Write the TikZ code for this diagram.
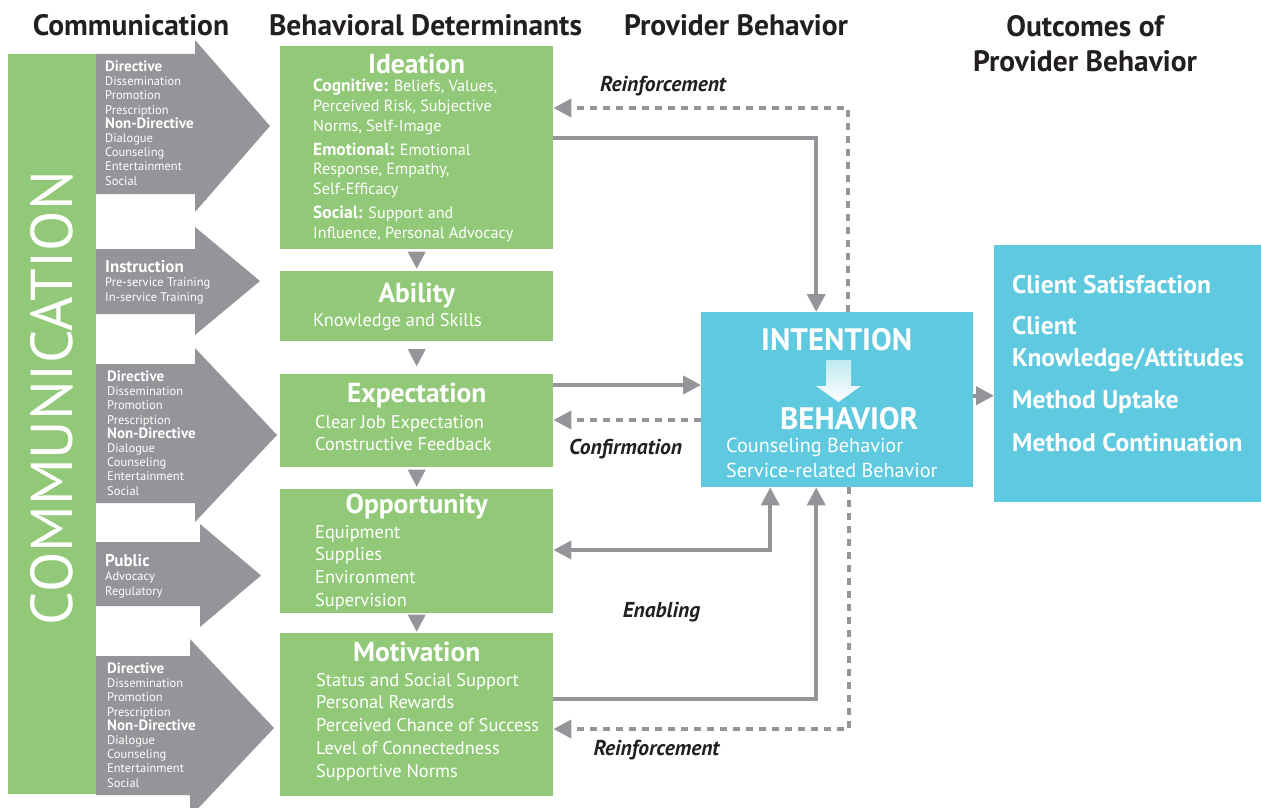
\documentclass[tikz,border=0pt]{standalone}
\usepackage{fontspec}
\setmainfont{PT Sans}
\usetikzlibrary{arrows.meta,positioning}

\definecolor{dgreen}{HTML}{92C978}
\definecolor{dblue}{HTML}{5FC9E0}
\definecolor{dgrey}{HTML}{939598}
\definecolor{dark}{HTML}{231F20}
\newcommand\lead[1]{{\fontsize{17.5}{21}\selectfont\bfseries #1}}
\newcommand\kind[1]{{\fontsize{15}{14.2}\selectfont\bfseries #1}}

\begin{document}
\begin{tikzpicture}[x=1pt,y=-1pt,
  gbox/.style={fill=dgreen, minimum width=273pt, inner sep=0pt, anchor=north west},
  bbox/.style={fill=dblue, inner sep=0pt, anchor=north west},
  head/.style={text=dark, anchor=base, align=center, font=\fontsize{29.5}{35}\selectfont\bfseries},
  title/.style={text=white, anchor=base, font=\fontsize{27.5}{30}\selectfont\bfseries},
  items/.style={text=white, align=left, anchor=base west, inner sep=0pt},
  tag/.style={text=white, align=left, anchor=base west, inner sep=0pt, font=\fontsize{12.5}{14.2}\selectfont},
  lbl/.style={text=dark, anchor=base, font=\fontsize{21.5}{24}\selectfont\bfseries\itshape},
  flow/.style={draw=dgrey, line width=4pt, -{Triangle[width=18pt,length=18pt]}},
  back/.style={flow, dash pattern=on 7pt off 6pt},
  twoway/.style={flow, {Triangle[width=18pt,length=18pt]}-{Triangle[width=18pt,length=18pt]}}
]
\useasboundingbox (0,0) rectangle (1261,808);
\clip (0,0) rectangle (1261,808);

% column headers (base = last line)
\node[head] (h1) at (131,36) {Communication};
\node[head] (h2) at (425.5,36) {Behavioral Determinants};
\node[head] (h3) at (736,36) {Provider Behavior};
\node[head] (h4) at (1085,71) {Outcomes of\\Provider Behavior};

% communication channels
\foreach \bt/\bb/\hx/\ht/\hb/\tx in {54/194/195/40/212/270, 249/314/195/227/335/260,
    364/503/195/348/522/277, 542/606/200/524/627/261, 656/795/190/639/817/274}
  \fill[dgrey] (96,\bt) -- (\hx,\bt) -- (\hx,\ht) -- (\tx,{(\ht+\hb)/2}) -- (\hx,\hb) -- (\hx,\bb) -- (96,\bb) -- cycle;

\node[fill=dgreen, minimum width=88pt, minimum height=740pt, inner sep=0pt, anchor=north west] (bar) at (8,54) {};
\node[rotate=90, text=white, font=\fontsize{59}{62}\selectfont] (comm) at ([yshift=26pt]bar.center) {COMMUNICATION};

\node[tag] (t1) at (105,185) {\kind{Directive}\\Dissemination\\Promotion\\Prescription\\\kind{Non-Directive}\\Dialogue\\Counseling\\Entertainment\\Social};
\node[tag] (t2) at (105,301) {{\fontsize{17}{14.2}\selectfont\bfseries Instruction}\\{\fontsize{12.5}{14.2}\selectfont Pre-service Training}\\{\fontsize{12.5}{14.2}\selectfont In-service Training}};
\node[tag] (t3) at (107,495) {\kind{Directive}\\Dissemination\\Promotion\\Prescription\\\kind{Non-Directive}\\Dialogue\\Counseling\\Entertainment\\Social};
\node[tag] (t4) at (105,595) {{\fontsize{17}{14.2}\selectfont\bfseries Public}\\{\fontsize{12.5}{14.2}\selectfont Advocacy}\\{\fontsize{12.5}{14.2}\selectfont Regulatory}};
\node[tag] (t5) at (107,787) {\kind{Directive}\\Dissemination\\Promotion\\Prescription\\\kind{Non-Directive}\\Dialogue\\Counseling\\Entertainment\\Social};

% behavioral determinants
\node[gbox, minimum height=203pt] (ideation) at (280,46) {};
\node[gbox, minimum height=70pt] (ability) at (280,271) {};
\node[gbox, minimum height=93pt] (expect) at (280,374) {};
\node[gbox, minimum height=124pt] (oppor) at (280,489) {};
\node[gbox, minimum height=163pt] (motiv) at (280,633) {};

\node[title] at ([yshift=-28pt]ideation.north) {Ideation};
\node[title] at ([yshift=-31pt]ability.north) {Ability};
\node[title] at ([yshift=-28pt]expect.north) {Expectation};
\node[title] at ([yshift=-24pt]oppor.north) {Opportunity};
\node[title] at ([yshift=-28pt]motiv.north) {Motivation};

\node[items, font=\fontsize{16.2}{19.6}\selectfont] (i1) at (313,238) {\lead{Cognitive:} Beliefs, Values,\\Perceived Risk, Subjective\\Norms, Self-Image\\[4.5pt]\lead{Emotional:} Emotional\\Response, Empathy,\\Self-Efficacy\\[4.5pt]\lead{Social:} Support and\\Influence, Personal Advocacy};
\node[items, font=\fontsize{18.4}{22.5}\selectfont] (i2) at (313,326) {Knowledge and Skills};
\node[items, font=\fontsize{18.4}{22}\selectfont] (i3) at (315,450) {Clear Job Expectation\\Constructive Feedback};
\node[items, font=\fontsize{18.4}{22.6}\selectfont] (i4) at (315,606) {Equipment\\Supplies\\Environment\\Supervision};
\node[items, font=\fontsize{18.4}{22.7}\selectfont] (i5) at (316,777) {Status and Social Support\\Personal Rewards\\Perceived Chance of Success\\Level of Connectedness\\Supportive Norms};

\foreach \a/\b in {ideation/ability, ability/expect, expect/oppor, oppor/motiv} {
  \path (\a.south) -- (\b.north) coordinate[midway] (m);
  \fill[dgrey] ([shift={(-9pt,8.5pt)}]m) -- ([shift={(9pt,8.5pt)}]m) -- ([yshift=-8.5pt]m) -- cycle;
}

% provider behavior
\node[bbox, minimum width=272pt, minimum height=175pt] (behav) at (701,312) {};
\node[anchor=base, text=white, font=\fontsize{31}{32}\selectfont\bfseries] (intent) at ([xshift=-0.5pt,yshift=-38pt]behav.north) {INTENTION};
\shade[top color=dblue!40!white, bottom color=white] (826,360) -- (851,360) -- (851,386) -- (861,386) -- (838.5,402) -- (816,386) -- (826,386) -- cycle;
\node[anchor=base, text=white, font=\fontsize{31}{32}\selectfont\bfseries] (act) at ([xshift=12pt,yshift=-117pt]behav.north) {BEHAVIOR};
\node[items, font=\fontsize{20.2}{25}\selectfont] (i6) at (726,477) {Counseling Behavior\\Service-related Behavior};

% outcomes
\node[bbox, minimum width=267pt, minimum height=257pt] (outcome) at (994,245) {};
\node[items, font=\fontsize{25.5}{32}\selectfont\bfseries] (i7) at (1012,451) {Client Satisfaction\\[9pt]Client\\Knowledge/Attitudes\\[10pt]Method Uptake\\[11pt]Method Continuation};

% connectors
\draw[flow] ([yshift=-92pt]ideation.north east) -| ([xshift=-21pt]behav.north);
\draw[back] ([xshift=11pt]behav.north) |- ([yshift=-62pt]ideation.north east);
\draw[flow] ([yshift=-11pt]expect.north east) -- ([yshift=-11pt]expect.north east -| behav.west);
\draw[back] ([yshift=-46pt]expect.north east -| behav.west) -- ([yshift=-46pt]expect.north east);
\draw[twoway] ([yshift=-61pt]oppor.north east) -| ([xshift=-67pt]behav.south);
\draw[flow] ([yshift=-66pt]motiv.north east) -| ([xshift=-21pt]behav.south);
\draw[back] ([xshift=12pt]behav.south) |- ([yshift=-96pt]motiv.north east);
\draw[flow] ([yshift=4pt]behav.east) -- ([yshift=4pt]behav.east -| outcome.west);

\node[lbl] (l1) at (663,92) {Reinforcement};
\node[lbl] (l2) at (625.5,454) {Confirmation};
\node[lbl] (l3) at (661.5,617) {Enabling};
\node[lbl] (l4) at (656.5,755) {Reinforcement};

\end{tikzpicture}
\end{document}
